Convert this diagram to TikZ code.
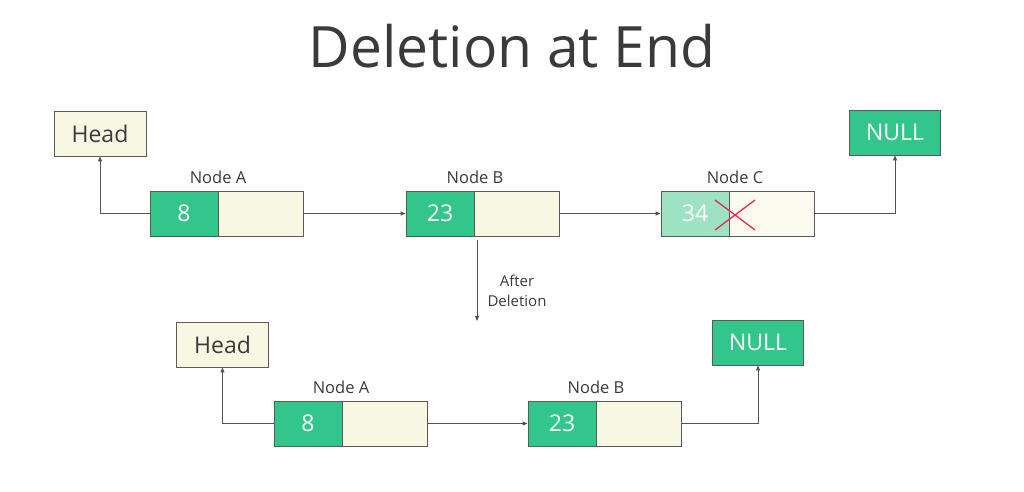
\documentclass[tikz,border=0pt]{standalone}
\usepackage{fontspec}
\setmainfont{Open Sans}
\usetikzlibrary{arrows.meta}
\definecolor{gfggreen}{HTML}{33C68A}
\definecolor{lightgreen}{HTML}{9EE2C4}
\definecolor{cream}{HTML}{F7F7E4}
\definecolor{edge}{HTML}{5A5A5A}
\definecolor{txt}{HTML}{3A3A3A}
\definecolor{crossred}{HTML}{E0294B}
\tikzset{
  cell/.style={draw=edge, line width=0.9pt, minimum height=45pt, inner sep=0pt, font=\fontsize{23}{23}\selectfont},
  datacell/.style={cell, fill=gfggreen, text=white, minimum width=68pt},
  nextcell/.style={cell, fill=cream, minimum width=85pt},
  headbox/.style={draw=edge, line width=0.9pt, fill=cream, text=txt, minimum width=92pt, minimum height=45pt, inner sep=0pt, font=\fontsize{23}{23}\selectfont},
  nullbox/.style={draw=edge, line width=0.9pt, fill=gfggreen, text=white, minimum width=91pt, minimum height=45pt, inner sep=0pt, font=\fontsize{23}{23}\selectfont},
  lbl/.style={text=txt, font=\fontsize{16.5}{16.5}\selectfont, inner sep=0pt},
  link/.style={draw=edge!90!black, line width=0.9pt, -{Triangle[length=5pt,width=4pt]}},
}
\begin{document}
\begin{tikzpicture}[x=1pt,y=-1pt]
\useasboundingbox (0,0) rectangle (1024,491);
% title
\node[text=txt, font=\fontsize{57}{57}\selectfont, inner sep=0pt] (title) at (512,46) {Deletion at End};
% top row
\node[headbox] (h1) at (100,133.5) {Head};
\node[datacell] (a1d) at (184,213.5) {8};
\node[nextcell, anchor=west] (a1n) at (a1d.east) {};
\node[lbl] (a1l) at (218,177) {Node A};
\node[datacell] (b1d) at (440,213.5) {23};
\node[nextcell, anchor=west] (b1n) at (b1d.east) {};
\node[lbl] (b1l) at (475,177) {Node B};
\node[datacell, fill=lightgreen] (c1d) at (695,213.5) {34};
\node[nextcell, anchor=west, fill=cream!60!white] (c1n) at (c1d.east) {};
\node[lbl] (c1l) at (735,177) {Node C};
\node[nullbox] (n1) at (895,132.5) {NULL};
\coordinate (x1) at (715,200);
\coordinate (x2) at (755,230);
\coordinate (x3) at (755,200);
\coordinate (x4) at (715,230);
\draw[crossred, line width=1.3pt] (x1) -- (x2) (x3) -- (x4);
\draw[link] (a1d.west) -| (h1.south);
\draw[link] (a1n.east) -- (b1d.west);
\draw[link] (b1n.east) -- (c1d.west);
\draw[link] (c1n.east) -| (n1.south);
% after deletion
\coordinate (ad1) at (477,240);
\coordinate (ad2) at (477,321);
\draw[link] (ad1) -- (ad2);
\node[lbl, align=center, font=\fontsize{15}{20}\selectfont] (adl) at (517,291) {After\\Deletion};
% bottom row
\node[headbox] (h2) at (222.5,344.5) {Head};
\node[datacell] (a2d) at (308,423.5) {8};
\node[nextcell, anchor=west] (a2n) at (a2d.east) {};
\node[lbl] (a2l) at (341,387) {Node A};
\node[datacell] (b2d) at (562,423.5) {23};
\node[nextcell, anchor=west] (b2n) at (b2d.east) {};
\node[lbl] (b2l) at (596,387) {Node B};
\node[nullbox] (n2) at (758,342.5) {NULL};
\draw[link] (a2d.west) -| (h2.south);
\draw[link] (a2n.east) -- (b2d.west);
\draw[link] (b2n.east) -| (n2.south);
\end{tikzpicture}
\end{document}
